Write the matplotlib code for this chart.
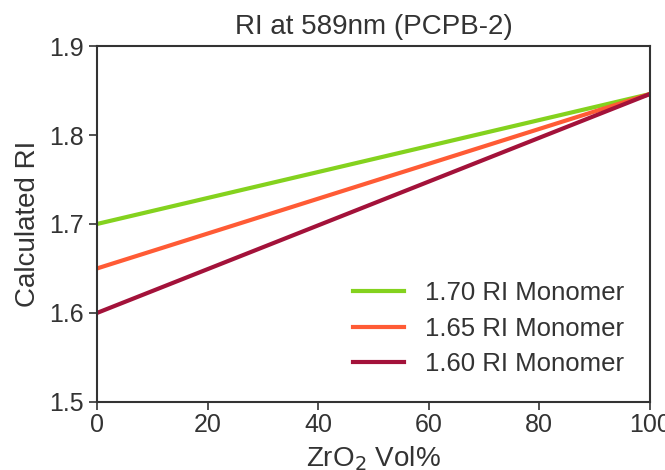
import matplotlib.pyplot as plt

plt.rcParams['font.family'] = ['Liberation Sans', 'DejaVu Sans']

# ZrO2 volume fraction (%) and calculated RI for each monomer
zro2_vol = [0, 100]
ri_170 = [1.70, 1.846]
ri_165 = [1.65, 1.846]
ri_160 = [1.60, 1.846]
labels = ['1.70 RI Monomer', '1.65 RI Monomer', '1.60 RI Monomer']
colors = ['#84D21E', '#FF5B35', '#A3123A']

fig, ax = plt.subplots(figsize=(6.65, 4.7), dpi=100)
for ys, lab, c in zip([ri_170, ri_165, ri_160], labels, colors):
    ax.plot(zro2_vol, ys, color=c, lw=3, label=lab)

ax.set_xlim(0, 100)
ax.set_ylim(1.5, 1.9)
ax.set_xticks([0, 20, 40, 60, 80, 100])
ax.set_yticks([1.5, 1.6, 1.7, 1.8, 1.9])
ax.tick_params(labelsize=18, colors='#333333', length=6, width=1.2)
ax.tick_params(axis='x', pad=2)
for sp in ax.spines.values():
    sp.set_color('#333333')
    sp.set_linewidth(1.5)

ax.set_xlabel('ZrO$_2$ Vol%', fontsize=20, color='#333333', labelpad=5)
ax.set_ylabel('Calculated RI', fontsize=20, color='#333333', labelpad=6)
ax.set_title('RI at 589nm (PCPB-2)', fontsize=20, color='#333333', pad=9)
leg = ax.legend(loc='lower right', fontsize=18.5, frameon=False, handlelength=2.0,
                borderaxespad=0.6, labelspacing=0.45)
for t in leg.get_texts():
    t.set_color('#333333')

plt.subplots_adjust(left=0.146, right=0.977, top=0.902, bottom=0.145)
plt.savefig('out.png')
